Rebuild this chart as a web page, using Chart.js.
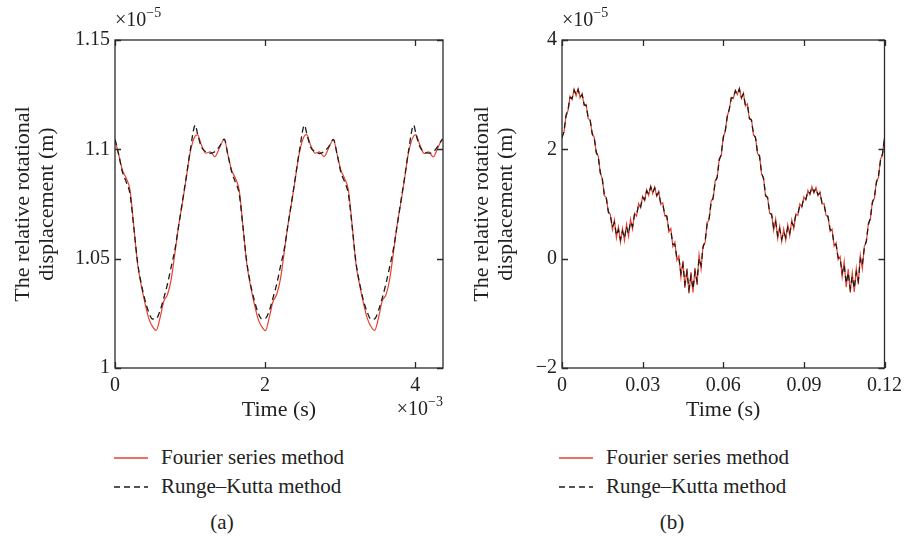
<!DOCTYPE html>
<html>
<head>
<meta charset="utf-8">
<script src="https://cdn.jsdelivr.net/npm/chart.js@4.4.1/dist/chart.umd.min.js"></script>
<style>
  body { margin: 0; background: #fff; width: 908px; height: 542px; position: relative; overflow: hidden; font-family: "Liberation Serif", serif; color: #222; }
  .box { position: absolute; top: 0; height: 430px; }
  .legend { position: absolute; top: 443px; font-size: 21px; }
  .legend .row { height: 29px; display: flex; align-items: center; white-space: nowrap; }
  .legend svg { margin-right: 13px; }
  .cap { position: absolute; top: 510px; width: 40px; text-align: center; font-size: 21px; line-height: 24px; }
</style>
</head>
<body>
<div class="box" id="boxA" style="left:0; width:454px;"><canvas id="chartA"></canvas></div>
<div class="box" id="boxB" style="left:459px; width:449px;"><canvas id="chartB"></canvas></div>
<div class="legend" id="legendA" style="left:114px;"></div>
<div class="legend" id="legendB" style="left:559px;"></div>
<div class="cap" style="left:202px;">(a)</div>
<div class="cap" style="left:652px;">(b)</div>
<script>
// (a) time in units of 1e-3 s, displacement in units of 1e-5 m
const timeA = [
  0, 0.05, 0.1, 0.15, 0.2, 0.25, 0.3, 0.35, 0.4, 0.45, 0.5, 0.55, 0.6, 0.65, 0.7, 0.75, 0.8, 0.85, 0.9, 0.95, 1, 1.07, 1.1, 1.15, 1.21, 1.27, 1.33, 1.39,
  1.455, 1.505, 1.555, 1.605, 1.655, 1.705, 1.755, 1.805, 1.855, 1.905, 1.955, 2.005, 2.055, 2.105, 2.155, 2.205, 2.255, 2.305, 2.355, 2.405, 2.455, 2.525, 2.555, 2.605, 2.665, 2.725, 2.785, 2.845,
  2.91, 2.96, 3.01, 3.06, 3.11, 3.16, 3.21, 3.26, 3.31, 3.36, 3.41, 3.46, 3.51, 3.56, 3.61, 3.66, 3.71, 3.76, 3.81, 3.86, 3.91, 3.98, 4.01, 4.06, 4.12, 4.18, 4.24, 4.3,
  4.36, 4.37
];
const fourierA = [
  1.1046, 1.0975, 1.0904, 1.0867, 1.0814, 1.0650, 1.0479, 1.0378, 1.0296, 1.0227, 1.0189, 1.0172, 1.0229, 1.0305, 1.0336, 1.0408, 1.0530, 1.0656, 1.0759, 1.0871, 1.0983, 1.1062, 1.1066, 1.1021, 1.0982, 1.0989, 1.0966, 1.1005,
  1.1046, 1.0974, 1.0903, 1.0868, 1.0812, 1.0648, 1.0480, 1.0377, 1.0295, 1.0226, 1.0189, 1.0171, 1.0230, 1.0304, 1.0337, 1.0409, 1.0531, 1.0655, 1.0760, 1.0872, 1.0982, 1.1062, 1.1067, 1.1020, 1.0983, 1.0988, 1.0967, 1.1004,
  1.1045, 1.0976, 1.0905, 1.0866, 1.0813, 1.0651, 1.0478, 1.0379, 1.0297, 1.0228, 1.0190, 1.0172, 1.0228, 1.0306, 1.0335, 1.0407, 1.0529, 1.0657, 1.0758, 1.0870, 1.0984, 1.1061, 1.1066, 1.1022, 1.0981, 1.0989, 1.0965, 1.1006,
  1.1045, 1.1046
];
const rungeA = [
  1.1046, 1.0975, 1.0895, 1.0850, 1.0795, 1.0645, 1.0485, 1.0385, 1.0310, 1.0255, 1.0224, 1.0226, 1.0262, 1.0320, 1.0385, 1.0465, 1.0545, 1.0655, 1.0765, 1.0875, 1.0990, 1.1111, 1.1070, 1.1012, 1.0989, 1.0982, 1.0989, 1.1012,
  1.1046, 1.0974, 1.0896, 1.0849, 1.0796, 1.0644, 1.0486, 1.0384, 1.0311, 1.0254, 1.0225, 1.0227, 1.0261, 1.0321, 1.0384, 1.0466, 1.0544, 1.0656, 1.0764, 1.0876, 1.0989, 1.1110, 1.1071, 1.1011, 1.0990, 1.0981, 1.0990, 1.1011,
  1.1045, 1.0976, 1.0894, 1.0851, 1.0794, 1.0646, 1.0484, 1.0386, 1.0309, 1.0256, 1.0223, 1.0225, 1.0263, 1.0319, 1.0386, 1.0464, 1.0546, 1.0654, 1.0766, 1.0874, 1.0991, 1.1111, 1.1069, 1.1013, 1.0988, 1.0983, 1.0988, 1.1013,
  1.1045, 1.1046
];
const yTicksA = [1, 1.05, 1.1, 1.15];

// (b) time in ms, displacement in units of 1e-5 m
const timeB = [
  0, 0.75, 1.5, 2.25, 3, 3.75, 4.5, 5.25, 6, 6.75, 7.5, 8.25, 9, 9.75, 10.5, 11.25, 12, 12.75, 13.5, 14.25,
  15, 15.75, 16.5, 17.25, 18, 18.75, 19.5, 20.25, 21, 21.75, 22.5, 23.25, 24, 24.75, 25.5, 26.25, 27, 27.75, 28.5, 29.25,
  30, 30.75, 31.5, 32.25, 33, 33.75, 34.5, 35.25, 36, 36.75, 37.5, 38.25, 39, 39.75, 40.5, 41.25, 42, 42.75, 43.5, 44.25,
  45, 45.75, 46.5, 47.25, 48, 48.75, 49.5, 50.25, 51, 51.75, 52.5, 53.25, 54, 54.75, 55.5, 56.25, 57, 57.75, 58.5, 59.25,
  60, 60.75, 61.5, 62.25, 63, 63.75, 64.5, 65.25, 66, 66.75, 67.5, 68.25, 69, 69.75, 70.5, 71.25, 72, 72.75, 73.5, 74.25,
  75, 75.75, 76.5, 77.25, 78, 78.75, 79.5, 80.25, 81, 81.75, 82.5, 83.25, 84, 84.75, 85.5, 86.25, 87, 87.75, 88.5, 89.25,
  90, 90.75, 91.5, 92.25, 93, 93.75, 94.5, 95.25, 96, 96.75, 97.5, 98.25, 99, 99.75, 100.5, 101.25, 102, 102.75, 103.5, 104.25,
  105, 105.75, 106.5, 107.25, 108, 108.75, 109.5, 110.25, 111, 111.75, 112.5, 113.25, 114, 114.75, 115.5, 116.25, 117, 117.75, 118.5, 119.25,
  120
];
const fourierB = [
  2.23, 2.31, 2.63, 2.71, 2.97, 2.91, 3.10, 2.98, 3.11, 2.94, 3.02, 2.80, 2.82, 2.56, 2.54, 2.27, 2.22, 1.93, 1.88, 1.56,
  1.47, 1.15, 1.12, 0.84, 0.81, 0.53, 0.71, 0.38, 0.58, 0.30, 0.55, 0.33, 0.63, 0.41, 0.72, 0.54, 0.83, 0.78, 1.01, 0.93,
  1.14, 1.06, 1.26, 1.16, 1.33, 1.19, 1.31, 1.14, 1.23, 0.99, 1.02, 0.78, 0.79, 0.49, 0.55, 0.22, 0.30, -0.03, 0.05, -0.34,
  -0.04, -0.53, -0.18, -0.63, -0.25, -0.62, -0.17, -0.48, 0.07, -0.19, 0.24, 0.29, 0.66, 0.71, 1.06, 1.09, 1.43, 1.47, 1.83, 1.88,
  2.23, 2.33, 2.61, 2.73, 2.95, 2.93, 3.08, 3.00, 3.12, 2.93, 3.03, 2.79, 2.83, 2.55, 2.55, 2.26, 2.23, 1.92, 1.89, 1.55,
  1.48, 1.14, 1.13, 0.83, 0.82, 0.52, 0.72, 0.37, 0.59, 0.31, 0.54, 0.34, 0.62, 0.42, 0.71, 0.55, 0.82, 0.79, 1.00, 0.94,
  1.13, 1.07, 1.25, 1.17, 1.32, 1.20, 1.30, 1.15, 1.22, 1.00, 1.01, 0.79, 0.78, 0.50, 0.54, 0.23, 0.29, -0.02, 0.04, -0.33,
  -0.05, -0.52, -0.19, -0.62, -0.26, -0.61, -0.18, -0.47, 0.06, -0.18, 0.23, 0.30, 0.65, 0.72, 1.05, 1.10, 1.42, 1.48, 1.82, 1.89,
  2.22
];
const rungeB = [
  2.21, 2.33, 2.61, 2.73, 2.95, 2.93, 3.08, 3.00, 3.09, 2.96, 3.00, 2.82, 2.80, 2.58, 2.52, 2.29, 2.20, 1.95, 1.86, 1.58,
  1.45, 1.17, 1.10, 0.86, 0.79, 0.58, 0.66, 0.43, 0.53, 0.35, 0.50, 0.38, 0.58, 0.46, 0.67, 0.59, 0.81, 0.80, 0.99, 0.95,
  1.12, 1.08, 1.24, 1.18, 1.31, 1.21, 1.29, 1.16, 1.21, 1.01, 1.00, 0.80, 0.77, 0.53, 0.51, 0.26, 0.26, 0.01, 0.01, -0.27,
  -0.11, -0.46, -0.25, -0.56, -0.32, -0.55, -0.24, -0.41, 0.00, -0.12, 0.21, 0.32, 0.63, 0.74, 1.03, 1.12, 1.40, 1.50, 1.80, 1.91,
  2.21, 2.34, 2.60, 2.74, 2.94, 2.94, 3.07, 3.01, 3.10, 2.95, 3.01, 2.81, 2.81, 2.57, 2.53, 2.28, 2.21, 1.94, 1.87, 1.57,
  1.46, 1.16, 1.11, 0.85, 0.80, 0.57, 0.67, 0.42, 0.54, 0.36, 0.49, 0.39, 0.57, 0.47, 0.66, 0.60, 0.80, 0.81, 0.98, 0.96,
  1.11, 1.09, 1.23, 1.19, 1.30, 1.22, 1.28, 1.17, 1.20, 1.02, 0.99, 0.81, 0.76, 0.54, 0.50, 0.27, 0.25, 0.02, 0.00, -0.26,
  -0.12, -0.45, -0.26, -0.55, -0.33, -0.54, -0.25, -0.40, -0.01, -0.11, 0.20, 0.33, 0.62, 0.75, 1.02, 1.13, 1.39, 1.51, 1.79, 1.92,
  2.20
];

const seriesNames = ['Fourier series method', 'Runge\u2013Kutta method'];
const RED = '#e8402c';
const BLACK = '#1c1c1c';
const AXIS = '#2a2a2a';
const FONT = '"Liberation Serif", serif';

const points = (xs, ys) => xs.map((x, i) => ({ x, y: ys[i] }));

// box frame with inward ticks on all four sides, plus the x10^n labels
const framePlugin = {
  id: 'frame',
  afterDraw(chart, args, opts) {
    const { ctx, chartArea: { left, right, top, bottom }, scales: { x, y } } = chart;
    ctx.save();
    ctx.strokeStyle = AXIS;
    ctx.lineWidth = 1.3;
    ctx.strokeRect(left, top, right - left, bottom - top);
    ctx.beginPath();
    x.ticks.forEach(t => {
      const px = Math.round(x.getPixelForValue(t.value)) + 0.5;
      ctx.moveTo(px, bottom); ctx.lineTo(px, bottom - 6);
      ctx.moveTo(px, top); ctx.lineTo(px, top + 6);
    });
    y.ticks.forEach(t => {
      const py = Math.round(y.getPixelForValue(t.value)) + 0.5;
      ctx.moveTo(left, py); ctx.lineTo(left + 6, py);
      ctx.moveTo(right, py); ctx.lineTo(right - 6, py);
    });
    ctx.stroke();

    ctx.fillStyle = '#222';
    ctx.textBaseline = 'alphabetic';
    const drawExp = (exp, xPos, yPos, alignRight) => {
      ctx.font = '20px ' + FONT;
      const base = '\u00d710';
      const w1 = ctx.measureText(base).width;
      ctx.font = '14px ' + FONT;
      const w2 = ctx.measureText(exp).width;
      const x0 = alignRight ? xPos - w1 - w2 : xPos;
      ctx.font = '20px ' + FONT;
      ctx.fillText(base, x0, yPos);
      ctx.font = '14px ' + FONT;
      ctx.fillText(exp, x0 + w1, yPos - 9);
    };
    if (opts.yExp) drawExp(opts.yExp, left, top - 14, false);
    if (opts.xExp) drawExp(opts.xExp, right, bottom + 47, true);
    ctx.restore();
  }
};

function makeChart(id, cfg) {
  return new Chart(document.getElementById(id), {
    type: 'line',
    data: {
      datasets: [
        {
          label: seriesNames[0],
          data: cfg.red,
          borderColor: RED,
          borderWidth: 1.2,
          pointRadius: 0,
          tension: cfg.tension,
          cubicInterpolationMode: cfg.mono ? 'monotone' : 'default',
          order: 2
        },
        {
          label: seriesNames[1],
          data: cfg.black,
          borderColor: BLACK,
          borderWidth: 1.3,
          borderDash: [6, 4],
          pointRadius: 0,
          tension: cfg.tension,
          cubicInterpolationMode: cfg.mono ? 'monotone' : 'default',
          order: 1
        }
      ]
    },
    options: {
      responsive: true,
      maintainAspectRatio: false,
      animation: false,
      events: [],
      layout: { padding: { top: 40, right: cfg.padRight, left: 0, bottom: 0 } },
      plugins: {
        legend: { display: false },
        tooltip: { enabled: false },
        frame: { yExp: '\u22125', xExp: cfg.xExp }
      },
      scales: {
        x: {
          type: 'linear',
          min: cfg.xMin, max: cfg.xMax,
          grid: { display: false, drawTicks: false },
          border: { display: false },
          ticks: {
            stepSize: cfg.xStep,
            includeBounds: false,
            padding: 6,
            color: '#222',
            font: { family: FONT, size: 20 },
            maxRotation: 0,
            callback: cfg.xLabel
          },
          title: {
            display: true,
            text: 'Time (s)',
            color: '#222',
            font: { family: FONT, size: 22, lineHeight: 1.15 },
            padding: { top: 0, bottom: 7 }
          },
          afterFit: s => { s.height = 62; }
        },
        y: {
          min: cfg.yMin, max: cfg.yMax,
          grid: { display: false, drawTicks: false },
          border: { display: false },
          ticks: {
            stepSize: cfg.yStep,
            padding: 5,
            color: '#222',
            font: { family: FONT, size: 20 },
            callback: cfg.yLabel
          },
          title: {
            display: true,
            text: ['The relative rotational', 'displacement (m)'],
            color: '#222',
            font: { family: FONT, size: 22, lineHeight: 1.1 },
            padding: { top: 11, bottom: 0 }
          },
          afterFit: s => { s.width = cfg.yWidth; }
        }
      }
    },
    plugins: [framePlugin]
  });
}

const chartA = makeChart('chartA', {
  red: points(timeA, fourierA),
  black: points(timeA, rungeA),
  tension: 0.4, mono: true,
  xMin: 0, xMax: 4.37, xStep: 2,
  xLabel: v => String(v),
  yMin: yTicksA[0], yMax: yTicksA[yTicksA.length - 1], yStep: 0.05,
  yLabel: v => String(+v.toFixed(2)),
  xExp: '\u22123',
  yWidth: 115, padRight: 11
});

const chartB = makeChart('chartB', {
  red: points(timeB, fourierB),
  black: points(timeB, rungeB),
  tension: 0, mono: false,
  xMin: 0, xMax: 120, xStep: 30,
  xLabel: v => (v === 0 ? '0' : (v / 1000).toFixed(2)),
  yMin: -2, yMax: 4, yStep: 2,
  yLabel: v => (v < 0 ? '\u2212' + Math.abs(v) : String(v)),
  xExp: null,
  yWidth: 103, padRight: 19
});

// legend rows built from the datasets
function buildLegend(chart, el) {
  chart.data.datasets.forEach(ds => {
    const row = document.createElement('div');
    row.className = 'row';
    const dash = ds.borderDash ? ds.borderDash.join(' ') : 'none';
    row.innerHTML =
      '<svg width="34" height="12"><line x1="0" y1="6" x2="34" y2="6" stroke="' + ds.borderColor +
      '" stroke-width="1.4" stroke-dasharray="' + dash + '"/></svg><span>' + ds.label + '</span>';
    el.appendChild(row);
  });
}
buildLegend(chartA, document.getElementById('legendA'));
buildLegend(chartB, document.getElementById('legendB'));
</script>
</body>
</html>
